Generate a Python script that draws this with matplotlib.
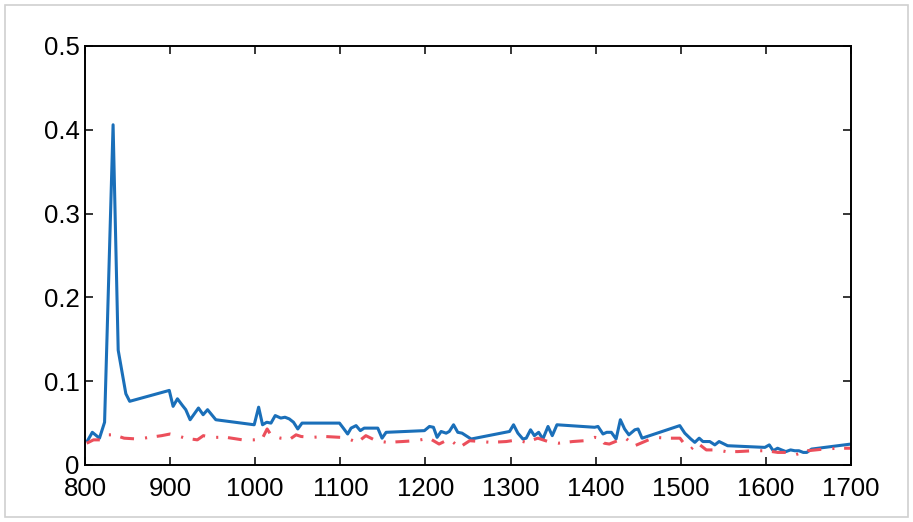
#import libs
import matplotlib
matplotlib.use("Agg")
import matplotlib.pyplot as plt
from matplotlib.patches import Rectangle

#data
blue_x = [803, 808.6, 817, 823, 833, 839, 848, 852.5, 899, 903.5, 908.6, 914.5, 918.4, 923.5,
          933.3, 938.8, 944, 953.7, 998.8, 1004, 1008.6, 1013.5, 1018.5, 1023.5, 1030, 1035,
          1040, 1045, 1050, 1055, 1099, 1103.5, 1108.6, 1112.6, 1118.5, 1123.5, 1128, 1144,
          1149, 1153.8, 1198.8, 1204.7, 1209.4, 1213.7, 1218.4, 1224.3, 1228, 1233, 1238,
          1243, 1253.7, 1298.8, 1303.5, 1308.6, 1314.5, 1318.4, 1323.5, 1328, 1333, 1338,
          1344, 1349, 1354.5, 1398.8, 1402.7, 1408.6, 1413, 1418.4, 1424, 1429, 1434, 1439,
          1446, 1449.8, 1454.5, 1498.8, 1504.7, 1511.8, 1516.5, 1521.6, 1526, 1534, 1540,
          1545, 1555, 1598.8, 1604, 1608.6, 1613.7, 1618.4, 1623.5, 1629, 1634, 1638.8,
          1643.9, 1648, 1653.7, 1700]
blue_y = [0.029, 0.039, 0.032, 0.051, 0.406, 0.137, 0.085, 0.076, 0.089, 0.070, 0.079, 0.071,
          0.066, 0.054, 0.068, 0.060, 0.066, 0.054, 0.048, 0.069, 0.048, 0.051, 0.050, 0.059,
          0.056, 0.057, 0.055, 0.051, 0.043, 0.050, 0.050, 0.044, 0.037, 0.044, 0.047, 0.041,
          0.044, 0.044, 0.032, 0.039, 0.041, 0.046, 0.045, 0.033, 0.040, 0.038, 0.040, 0.048,
          0.039, 0.038, 0.031, 0.040, 0.048, 0.038, 0.031, 0.032, 0.042, 0.035, 0.039, 0.031,
          0.046, 0.035, 0.048, 0.045, 0.046, 0.037, 0.039, 0.039, 0.031, 0.054, 0.043, 0.036,
          0.042, 0.043, 0.032, 0.047, 0.038, 0.031, 0.027, 0.032, 0.028, 0.028, 0.024, 0.028,
          0.023, 0.021, 0.024, 0.017, 0.020, 0.018, 0.016, 0.018, 0.017, 0.017, 0.015, 0.015,
          0.019, 0.025]

red_x = [802, 810, 818, 824, 834, 846, 862, 876, 890, 900, 905, 918, 932, 939, 944, 954, 966,
         985, 998, 1008, 1014, 1019, 1030, 1041, 1048, 1054, 1067, 1082, 1100, 1110, 1120,
         1130, 1142, 1155, 1173, 1188, 1200, 1206, 1216, 1228, 1240, 1252, 1265, 1277, 1295,
         1308, 1318, 1332, 1344, 1356, 1373, 1387, 1399, 1405, 1410, 1416, 1428, 1434, 1446,
         1469, 1485, 1499, 1505, 1512, 1520, 1530, 1543, 1553, 1567, 1585, 1601, 1614, 1628,
         1634, 1649, 1668, 1684, 1700]
red_y = [0.026, 0.030, 0.030, 0.036, 0.036, 0.032, 0.031, 0.033, 0.035, 0.037, 0.036, 0.032,
         0.030, 0.035, 0.034, 0.033, 0.033, 0.030, 0.030, 0.031, 0.043, 0.035, 0.032, 0.031,
         0.036, 0.034, 0.033, 0.034, 0.033, 0.031, 0.027, 0.035, 0.029, 0.027, 0.028, 0.029,
         0.031, 0.031, 0.025, 0.031, 0.021, 0.029, 0.028, 0.027, 0.028, 0.030, 0.027, 0.032,
         0.028, 0.026, 0.028, 0.029, 0.033, 0.032, 0.026, 0.025, 0.030, 0.033, 0.023, 0.033,
         0.032, 0.032, 0.024, 0.019, 0.026, 0.018, 0.018, 0.016, 0.016, 0.017, 0.017, 0.015,
         0.015, 0.012, 0.017, 0.019, 0.020, 0.020]

x_ticks = [800, 900, 1000, 1100, 1200, 1300, 1400, 1500, 1600, 1700]
y_ticks = [0, 0.1, 0.2, 0.3, 0.4, 0.5]
y_tick_labels = ["0", "0.1", "0.2", "0.3", "0.4", "0.5"]

plt.rcParams['font.family'] = ['Liberation Sans', 'DejaVu Sans']
plt.rcParams['lines.scale_dashes'] = False

fig = plt.figure(figsize=(9.13, 5.22), dpi=100)
ax = fig.add_axes([0.0931, 0.1092, 0.8390, 0.8027])

#light gray frame round the figure
fig.patches.append(Rectangle((0.005, 0.010), 0.989, 0.980, transform=fig.transFigure,
                             fill=False, edgecolor="#d0d0d0", linewidth=1.2))

ax.plot(blue_x, blue_y, color="#1a6fb9", linewidth=2.2)
ax.plot(red_x, red_y, color="#ec4f5b", linewidth=2.2,
        linestyle=(0, (10, 8, 1.5, 7)), dash_capstyle="butt")

ax.set_xlim(800, 1700)
ax.set_ylim(0, 0.5)
ax.set_xticks(x_ticks)
ax.set_yticks(y_ticks)
ax.set_yticklabels(y_tick_labels)
ax.tick_params(direction="in", length=6, width=1.1, labelsize=18.5,
               top=True, right=True, colors="black")
ax.tick_params(axis="x", pad=9)
ax.tick_params(axis="y", pad=4)
for s in ax.spines.values():
    s.set_linewidth(1.4)

fig.savefig("out.png", dpi=100)
